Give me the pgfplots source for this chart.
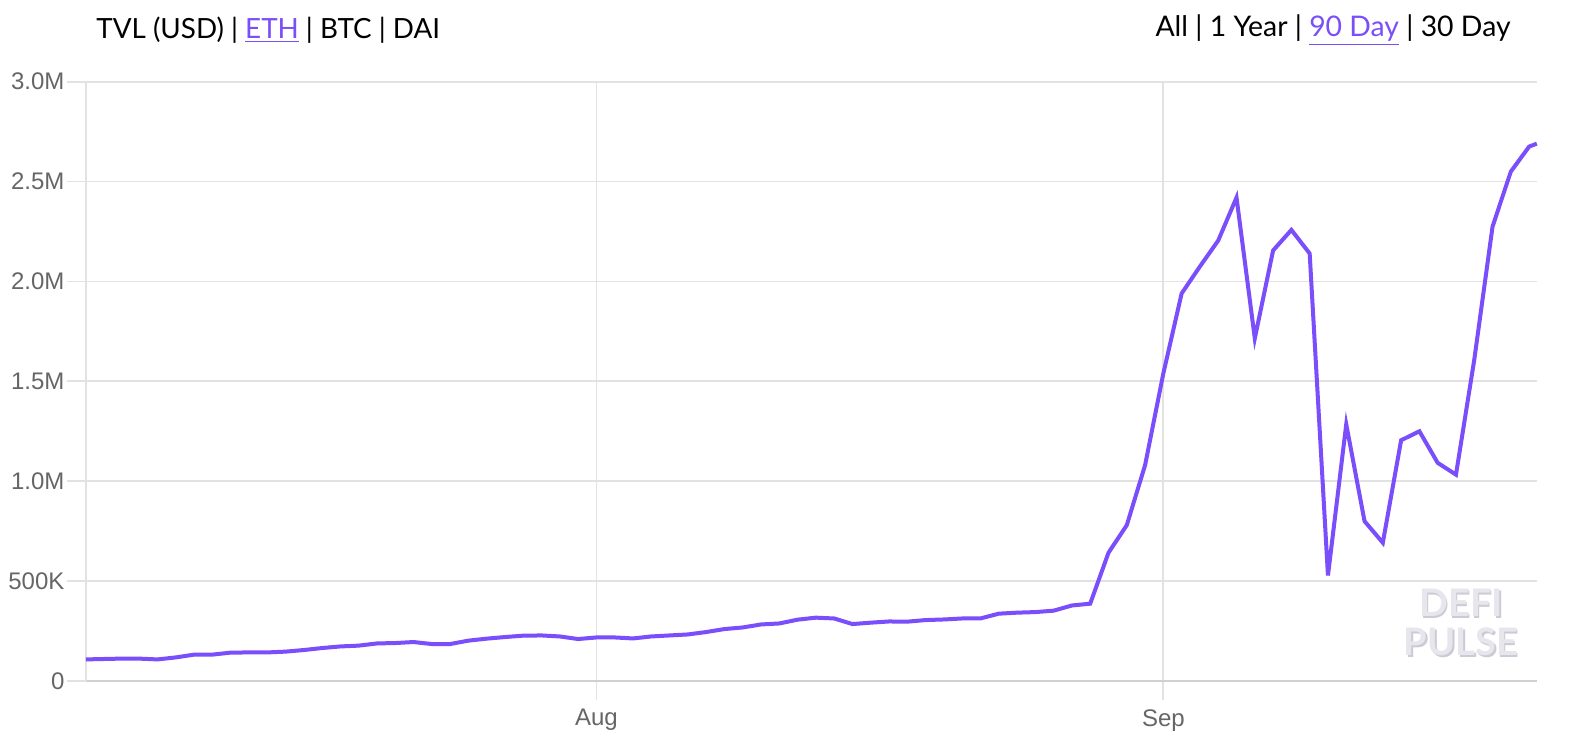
\documentclass[border=0pt]{standalone}
\usepackage{pgfplots}
\pgfplotsset{compat=1.18}
\usepackage{fontspec}
\setmainfont{Liberation Sans}
\newfontfamily\headfont{Lato}
\definecolor{tvl}{RGB}{122,78,250}
\definecolor{gridc}{RGB}{226,226,226}
\definecolor{axisc}{RGB}{208,208,208}
\definecolor{tickc}{RGB}{102,102,102}
\definecolor{wmA}{RGB}{232,230,237}
\definecolor{wmB}{RGB}{205,202,214}
\begin{document}
\begin{tikzpicture}
\path[use as bounding box, fill=white] (-42.9pt,-30.5pt) rectangle (748.1pt,340.5pt);
\begin{axis}[
  at={(0,0)}, anchor=south west,
  scale only axis,
  width=725.5pt, height=299.65pt,
  xmin=-27.92, xmax=51.42,
  ymin=0, ymax=3,
  axis x line*=bottom, axis y line*=left,
  x axis line style={draw=axisc, line width=1pt},
  y axis line style={draw=gridc, line width=0.9pt},
  xtick={0,31}, xticklabels={Aug,Sep},
  ytick={0,0.5,1,1.5,2,2.5,3},
  yticklabels={0,500K,1.0M,1.5M,2.0M,2.5M,3.0M},
  xmajorgrids, ymajorgrids,
  major grid style={draw=gridc, line width=0.9pt},
  tick align=outside,
  major tick length=9.5pt,
  tick style={draw=gridc, line width=0.9pt},
  tick label style={font=\fontsize{12}{14}\selectfont, text=tickc},
  /pgf/number format/assume math mode=true,
  yticklabel style={inner sep=1pt},
  xticklabel style={inner sep=1pt, yshift=-3.5pt},
  clip=false,
]
\addplot[tvl, line width=2pt, line join=miter, mark=none] coordinates {
(-27.92,0.108) (-27,0.110) (-26,0.112) (-25,0.112) (-24,0.108) (-23,0.118)
(-22,0.132) (-21,0.132) (-20,0.142) (-19,0.143) (-18,0.143) (-17,0.147)
(-16,0.155) (-15,0.165) (-14,0.173) (-13,0.177) (-12,0.188) (-11,0.190)
(-10,0.195) (-9,0.185) (-8,0.185) (-7,0.202) (-6,0.212) (-5,0.220)
(-4,0.227) (-3,0.228) (-2,0.223) (-1,0.210) (0,0.218) (1,0.218)
(2,0.213) (3,0.223) (4,0.228) (5,0.233) (6,0.245) (7,0.260)
(8,0.268) (9,0.283) (10,0.288) (11,0.307) (12,0.317) (13,0.313)
(14,0.285) (15,0.292) (16,0.298) (17,0.297) (18,0.305) (19,0.308)
(20,0.313) (21,0.313) (22,0.337) (23,0.342) (24,0.345) (25,0.352)
(26,0.378) (27,0.387) (28,0.642) (29,0.780) (30,1.080) (31,1.540)
(32,1.940) (33,2.075) (34,2.205) (35,2.420) (36,1.715) (37,2.155)
(38,2.258) (39,2.140) (40,0.528) (41,1.285) (42,0.800) (43,0.692)
(44,1.205) (45,1.250) (46,1.092) (47,1.033) (48,1.608) (49,2.275)
(50,2.550) (51,2.675) (51.42,2.690)
};
\end{axis}
% header
\node[anchor=west, inner sep=0pt, font=\headfont\fontsize{13.9}{16}\selectfont] at (5.1pt,325.5pt)
  {TVL (USD) | \textcolor{tvl}{\underline{ETH}} | BTC | DAI};
\node[anchor=east, inner sep=0pt, font=\headfont\fontsize{14.2}{16}\selectfont] at (712.6pt,325.5pt)
  {All | 1 Year | \textcolor{tvl}{\underline{90 Day}} | 30 Day};
% watermark
\foreach \yy/\txt in {39/DEFI,19.5/PULSE}{
  \node[font=\headfont\bfseries\fontsize{19}{21}\selectfont, text=wmB] at (688.4pt,\yy pt-0.8pt) {\txt};
  \node[font=\headfont\bfseries\fontsize{19}{21}\selectfont, text=wmA] at (687.6pt,\yy pt) {\txt};
}
\end{tikzpicture}
\end{document}
